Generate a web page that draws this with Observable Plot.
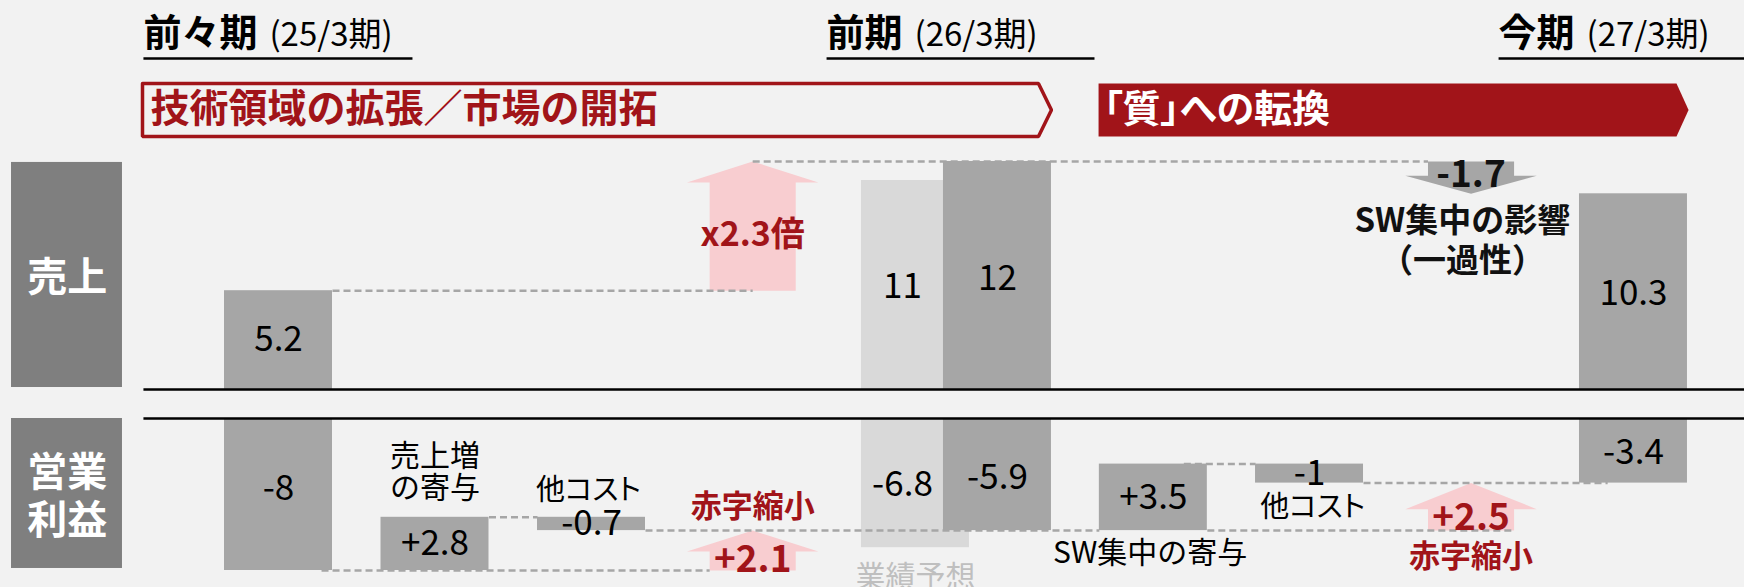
<!DOCTYPE html>
<html><head><meta charset="utf-8">
<script src="https://cdn.jsdelivr.net/npm/d3@7"></script>
<script src="https://cdn.jsdelivr.net/npm/@observablehq/plot@0.6"></script>
<style>
html,body{margin:0;padding:0;background:#f2f2f2;overflow:hidden;}
#chart svg{display:block;}
</style></head><body><div id="chart"></div>
<script>
// ---------------- data ----------------
const periodNames = ["前々期", "前期", "今期"];
const periodCodes = ["(25/3期)", "(26/3期)", "(27/3期)"];
const themeLabels = ["技術領域の拡張／市場の開拓", "「質」への転換"];
const rowLabels = ["売上", "営業\n利益"];
const salesValues = [5.2, 12, 10.3];          // 前々期, 前期, 今期
const salesForecastValue = 11;                // 前期 業績予想
const salesChangeNotes = ["倍", "SW集中の影響\n（一過性）"];
const profitValues = [-8, -5.9, -3.4];        // 前々期, 前期, 今期
const profitForecastValue = -6.8;             // 前期 業績予想
const forecastLabel = "業績予想";
const bridge26Labels = ["売上増\nの寄与", "他コスト"];
const bridge26Values = [2.8, -0.7];
const bridge27Labels = ["SW集中の寄与", "他コスト"];
const bridge27Values = [3.5, -1];
const deficitLabel = "赤字縮小";

// ---------------- layout (slot units / value units) ----------------
const slot = {p0: 0, b26a: 1, b26b: 2, arr26: 3.03, fc: 4.07, p1: 4.594, b27a: 5.59, b27b: 6.588, arr27: 7.62, p2: 8.658};
const HALF = 0.345, SHAFT = 0.275, HEAD = 0.42;
const GAP = 29 / 19;
const py = v => v - GAP;               // profit panel sits below the sales panel
const XMIN = -278 / 156.5, XMAX = (1744 - 278) / 156.5;
const C = {bar: "#a6a6a6", fc: "#d9d9d9", box: "#7f7f7f", red: "#a11419", pink: "#f8cdd0", dash: "#a6a6a6", ghost: "#bfbfbf"};
const FONT = "'Noto Sans CJK JP', 'Noto Sans', sans-serif";

const fmt = v => (v < 0 ? "-" : "") + Math.abs(+v.toFixed(1));
const fmtS = v => (v > 0 ? "+" : "") + fmt(v);

// ---------------- bars ----------------
const bars = [];
bars.push({x: slot.fc, y1: 0, y2: salesForecastValue, fill: C.fc});
bars.push({x: slot.fc, y1: py(0), y2: py(profitForecastValue), fill: C.fc});
[slot.p0, slot.p1, slot.p2].forEach((x, i) => {
  bars.push({x, y1: 0, y2: salesValues[i], fill: C.bar});
  bars.push({x, y1: py(0), y2: py(profitValues[i]), fill: C.bar});
});
const bridgeBars = [];
let run = profitValues[0];
bridge26Values.forEach((d, i) => {
  bridgeBars.push({x: [slot.b26a, slot.b26b][i], from: run, to: run + d, d, label: bridge26Labels[i]});
  run += d;
});
run = profitValues[1];
bridge27Values.forEach((d, i) => {
  bridgeBars.push({x: [slot.b27a, slot.b27b][i], from: run, to: run + d, d, label: bridge27Labels[i]});
  run += d;
});
bridgeBars.forEach(b => bars.push({x: b.x, y1: py(b.from), y2: py(b.to), fill: C.bar}));

// ---------------- arrows ----------------
function arrow(xc, y0, y1, head, id) {
  const s = Math.sign(y1 - y0), hb = y1 - s * head;
  return [[xc - SHAFT, y0], [xc - SHAFT, hb], [xc - HEAD, hb], [xc, y1], [xc + HEAD, hb], [xc + SHAFT, hb], [xc + SHAFT, y0]]
    .map(([x, y]) => ({x, y, id}));
}
const pinkArrows = [
  ...arrow(slot.arr26, salesValues[0], salesValues[1], 1.1, "a"),
  ...arrow(slot.arr26, py(profitValues[0]), py(profitValues[1]), 1.1, "b"),
  ...arrow(slot.arr27, py(profitValues[1]), py(profitValues[2]), 1.37, "c")
];
const grayArrows = arrow(slot.arr27, salesValues[1], salesValues[2], 0.95, "d");

// ---------------- dashed connectors ----------------
const dashes = [
  {x1: slot.p0 + HALF, x2: slot.arr26, y: salesValues[0]},
  {x1: slot.arr26, x2: slot.arr27 - SHAFT, y: salesValues[1]},
  {x1: slot.p0 + HALF - 0.07, x2: slot.arr26 - SHAFT, y: py(profitValues[0])},
  {x1: slot.b26a + HALF, x2: slot.b26b - HALF, y: py(bridgeBars[0].to)},
  {x1: slot.b26b + HALF, x2: slot.b27a - HALF, y: py(profitValues[1])},
  {x1: slot.b27a + HALF - 0.15, x2: slot.b27b - HALF, y: py(bridgeBars[2].to)},
  {x1: slot.b27a + HALF, x2: slot.arr27 + SHAFT, y: py(profitValues[1])},
  {x1: slot.b27b + HALF, x2: slot.p2 - HALF + 0.18, y: py(profitValues[2])}
];

// ---------------- header shapes ----------------
const pTop = 16.105, pBot = 13.316, pMid = (pTop + pBot) / 2;
function pill(x1, xr, xt, id) {
  return [[x1, pTop], [xr, pTop], [xt, pMid], [xr, pBot], [x1, pBot], [x1, pTop]].map(([x, y]) => ({x, y, id}));
}
const pill1 = pill(-0.869, 4.856, 4.939, "p1");
const pill2 = pill(5.24, 8.933, 9.01, "p2");
const periodStarts = [-0.863, 3.502, 7.796];
const periodEnds = [0.856, 5.214, XMAX];
const underlines = periodStarts.map((x1, i) => ({x1, x2: periodEnds[i], y: 17.42}));

// ---------------- labels ----------------
const valueLabels = [
  {x: slot.p0, y: salesValues[0] / 2, t: fmt(salesValues[0])},
  {x: (slot.fc + slot.p1) / 2 - HALF, y: salesForecastValue / 2 - 0.1, t: fmt(salesForecastValue)},
  {x: slot.p1, y: salesValues[1] / 2 - 0.15, t: fmt(salesValues[1])},
  {x: slot.p2, y: salesValues[2] / 2 - 0.1, t: fmt(salesValues[2])},
  {x: slot.p0, y: py(profitValues[0] / 2 + 0.3), t: fmt(profitValues[0])},
  {x: (slot.fc + slot.p1) / 2 - HALF, y: py(profitForecastValue / 2 - 0.1), t: fmt(profitForecastValue)},
  {x: slot.p1, y: py(profitValues[1] / 2 - 0.15), t: fmt(profitValues[1])},
  {x: slot.p2, y: py(profitValues[2] / 2 - 0.1), t: fmt(profitValues[2])},
  ...bridgeBars.map(b => ({x: b.x, y: py((b.from + b.to) / 2), t: fmtS(b.d)}))
];

const textMarks = (data, opts) => Plot.text(data, {x: "x", y: "y", text: "t", fontFamily: FONT, ...opts});

const ratio = salesValues[1] / salesValues[0];

const marks = [
  // row label boxes
  Plot.rect([{x1: -1.706, x2: -0.997, y1: 0.105, y2: 11.95}, {x1: -1.706, x2: -0.997, y1: py(0), y2: -9.42}],
    {x1: "x1", x2: "x2", y1: "y1", y2: "y2", fill: C.box}),
  // bars
  Plot.rect(bars, {x1: d => d.x - HALF, x2: d => d.x + HALF, y1: "y1", y2: "y2", fill: "fill"}),
  // arrows
  Plot.line(pinkArrows, {x: "x", y: "y", z: "id", fill: C.pink, stroke: "none"}),
  Plot.line(grayArrows, {x: "x", y: "y", z: "id", fill: C.bar, stroke: "none"}),
  // dashed connectors
  Plot.link(dashes, {x1: "x1", x2: "x2", y1: "y", y2: "y", stroke: C.dash, strokeWidth: 2.5, strokeDasharray: "7,4"}),
  // baselines
  Plot.link([{y: 0}, {y: py(0)}], {x1: -0.863, x2: XMAX, y1: "y", y2: "y", stroke: "#000", strokeWidth: 2.5}),
  // header
  Plot.link(underlines, {x1: "x1", x2: "x2", y1: "y", y2: "y", stroke: "#000", strokeWidth: 2.5}),
  Plot.line(pill1, {x: "x", y: "y", z: "id", stroke: C.red, strokeWidth: 3.5, strokeLinejoin: "miter", fill: "none"}),
  Plot.line(pill2, {x: "x", y: "y", z: "id", fill: C.red, stroke: "none"}),
  Plot.text([themeLabels[0]], {x: -0.869, y: pMid, text: d => d, textAnchor: "start", dx: 8, fontFamily: FONT, fontWeight: "bold", fontSize: 39, fill: C.red}),
  Plot.text([themeLabels[1]], {x: 5.24, y: pMid, text: d => d, textAnchor: "start", dx: 5, fontFamily: FONT, fontWeight: "bold", fontSize: 38, fill: "#fff"}),
  Plot.text(periodNames, {x: (d, i) => periodStarts[i], y: 18.1, text: d => d, textAnchor: "start", lineAnchor: "bottom", fontFamily: FONT, fontWeight: "bold", fontSize: 38, fill: "#000"}),
  ...periodCodes.map((c, i) => Plot.text([c], {x: periodStarts[i], y: 18.1, text: d => d, textAnchor: "start", lineAnchor: "bottom",
      dx: periodNames[i].length * 38 + 12, fontFamily: FONT, fontSize: 33, fill: "#000"})),
  // row labels
  Plot.text(rowLabels, {x: -1.35, y: (d, i) => i === 0 ? 6.0 : -5.53, text: d => d, fontFamily: FONT, fontWeight: "bold", fontSize: 40, lineHeight: 1.2, fill: "#fff"}),
  // value labels
  textMarks(valueLabels, {fontSize: 35, fill: "#000"}),
  // category labels
  Plot.text([bridge26Labels[0]], {x: slot.b26a, y: py(bridgeBars[0].to + 2.42), text: d => d, fontFamily: FONT, fontSize: 30, lineHeight: 1.07, fill: "#000"}),
  Plot.text([bridge26Labels[1]], {x: slot.b26b - 0.02, y: py(bridgeBars[1].from + 1.41), text: d => d, fontFamily: FONT, fontSize: 29, fill: "#000"}),
  Plot.text([bridge27Labels[0]], {x: slot.b27a - 0.02, y: py(bridgeBars[2].from - 1.2), text: d => d, fontFamily: FONT, fontSize: 30, fill: "#000"}),
  Plot.text([bridge27Labels[1]], {x: slot.b27b + 0.02, y: py(bridgeBars[3].to - 1.28), text: d => d, fontFamily: FONT, fontSize: 29, fill: "#000"}),
  Plot.text([forecastLabel], {x: slot.fc, y: py(profitForecastValue - 1.57), text: d => d, fontFamily: FONT, fontSize: 30, fill: C.ghost}),
  // change annotations
  Plot.text(["x" + ratio.toFixed(1) + salesChangeNotes[0]], {x: slot.arr26, y: 8.1, text: d => d, fontFamily: FONT, fontWeight: "bold", fontSize: 34, fill: C.red}),
  Plot.text([fmt(salesValues[2] - salesValues[1])], {x: slot.arr27, y: salesValues[1] - 0.74, text: d => d, fontFamily: FONT, fontWeight: "bold", fontSize: 37, fill: "#111"}),
  Plot.text([salesChangeNotes[1]], {x: slot.arr27 - 0.055, y: 7.92, text: d => d, fontFamily: FONT, fontWeight: "bold", fontSize: 33, lineHeight: 1.2, fill: "#111"}),
  Plot.text([deficitLabel], {x: slot.arr26, y: py(profitValues[1] + 1.22), text: d => d, fontFamily: FONT, fontWeight: "bold", fontSize: 31, fill: C.red}),
  Plot.text([fmtS(profitValues[1] - profitValues[0])], {x: slot.arr26, y: py(profitValues[0] + 0.53), text: d => d, fontFamily: FONT, fontWeight: "bold", fontSize: 37, fill: C.red}),
  Plot.text([fmtS(profitValues[2] - profitValues[1])], {x: slot.arr27, y: py(profitValues[1] + 0.64), text: d => d, fontFamily: FONT, fontWeight: "bold", fontSize: 37, fill: C.red}),
  Plot.text([deficitLabel], {x: slot.arr27, y: py(profitValues[1] - 1.4), text: d => d, fontFamily: FONT, fontWeight: "bold", fontSize: 31, fill: C.red})
];

const chart = Plot.plot({
  width: 1744, height: 587,
  marginTop: 0, marginRight: 0, marginBottom: 0, marginLeft: 0,
  x: {type: "linear", domain: [XMIN, XMAX], axis: null},
  y: {type: "linear", domain: [(389 - 587) / 19, 389 / 19], axis: null},
  style: {background: "#f2f2f2", fontFamily: FONT, overflow: "hidden"},
  marks
});
// proportional kana/bracket spacing like the original slide font
d3.select(chart).selectAll("text")
  .filter(function () { return /[「」コスト]/.test(this.textContent); })
  .style("font-feature-settings", "'palt' 1")
  .style("font-kerning", "normal");
document.getElementById("chart").appendChild(chart);
</script>
</body></html>
